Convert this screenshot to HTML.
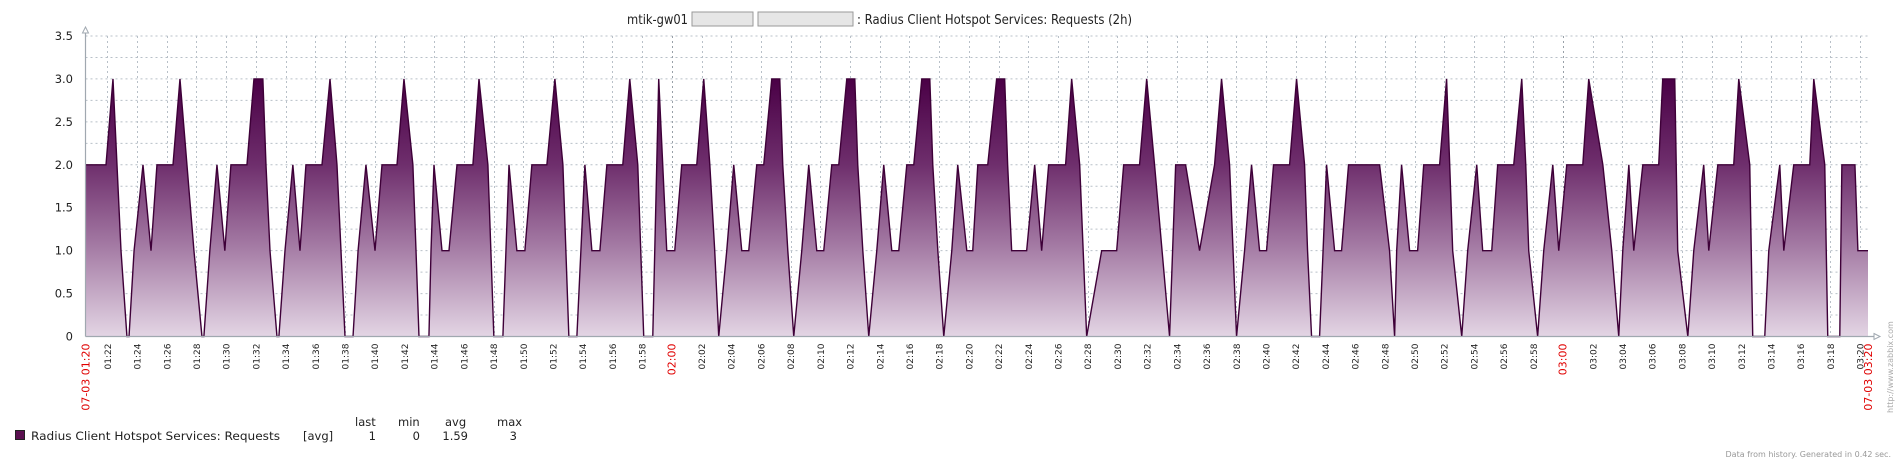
<!DOCTYPE html>
<html><head><meta charset="utf-8"><style>
html,body{margin:0;padding:0;background:#fff;}
svg{display:block;font-family:"DejaVu Sans","Liberation Sans",sans-serif;}
</style></head><body>
<svg id="chart" width="1898" height="462" viewBox="0 0 1898 462" xmlns="http://www.w3.org/2000/svg">
<defs>
<linearGradient id="fillGrad" gradientUnits="userSpaceOnUse" x1="0" y1="79" x2="0" y2="336.5">
<stop offset="0" stop-color="#4a0046"/>
<stop offset="0.33" stop-color="#6e2e6c"/>
<stop offset="0.66" stop-color="#a67da6"/>
<stop offset="1" stop-color="#e3d5e4"/>
</linearGradient>
</defs>
<g>
<text x="627" y="24" font-size="13.5" fill="#222" textLength="61" lengthAdjust="spacingAndGlyphs">mtik-gw01</text>
<rect x="692" y="12" width="61" height="14" fill="#e6e6e6" stroke="#999"/>
<rect x="758" y="12" width="95" height="14" fill="#e6e6e6" stroke="#999"/>
<text x="857" y="24" font-size="13.5" fill="#222" textLength="275" lengthAdjust="spacingAndGlyphs">: Radius Client Hotspot Services: Requests (2h)</text>
</g>
<g id="grid"></g>
<g id="series"></g>
<g id="axes"></g>
<g font-size="11.5" fill="#222">
<text x="355" y="426">last</text><text x="398" y="426">min</text><text x="445" y="426">avg</text><text x="497" y="426">max</text>
<rect x="15.5" y="430.5" width="9" height="9" fill="#5a1050" stroke="#222"/>
<text x="31" y="440" textLength="249" lengthAdjust="spacingAndGlyphs">Radius Client Hotspot Services: Requests</text>
<text x="303" y="440">[avg]</text>
<text x="376" y="440" text-anchor="end">1</text>
<text x="420" y="440" text-anchor="end">0</text>
<text x="468" y="440" text-anchor="end">1.59</text>
<text x="517" y="440" text-anchor="end">3</text>
</g>
<text x="1891" y="457" font-size="8" fill="#999" text-anchor="end">Data from history. Generated in 0.42 sec.</text>
<text transform="translate(1893,413) rotate(-90)" font-size="8" fill="#aaa">http://www.zabbix.com</text>
</svg>
<script>
// data: minutes since 01:20 and request values
const times = [0.53,1.91,2.38,2.65,2.92,3.32,3.46,3.80,4.40,4.94,5.34,6.42,6.89,7.36,7.83,8.37,8.50,8.90,9.38,9.91,10.32,11.40,11.87,12.47,12.68,12.95,13.42,13.55,13.96,14.49,14.97,15.37,16.45,16.99,17.46,17.73,18.00,18.54,18.88,19.41,20.02,20.49,21.50,21.97,22.57,22.78,22.98,23.65,23.79,23.99,24.53,25.00,25.54,26.61,27.02,27.62,28.02,28.63,29.04,29.57,30.11,30.58,31.59,32.13,32.67,33.07,33.61,34.15,34.62,35.16,35.63,36.70,37.17,37.71,38.11,38.72,39.12,39.66,40.20,40.67,41.68,42.15,42.56,42.89,43.16,43.70,44.17,44.71,45.18,45.72,46.19,46.73,47.27,47.47,47.81,48.21,48.75,49.22,49.76,50.23,50.77,51.24,51.78,52.32,52.52,52.86,53.26,53.80,54.27,54.81,55.28,55.82,56.29,56.83,57.37,57.57,57.91,58.31,58.85,59.25,59.86,60.26,60.60,61.27,61.87,62.41,62.61,62.88,63.89,64.43,64.90,65.37,66.51,66.92,67.46,67.93,68.94,69.95,70.42,71.49,71.97,72.50,73.51,73.92,74.59,75.53,76.54,77.01,77.55,78.02,78.56,79.03,79.57,80.04,80.51,81.59,82.06,82.60,82.80,83.07,83.61,84.08,84.62,85.09,85.56,87.65,88.32,88.66,88.80,89.13,89.67,90.21,90.62,91.69,92.16,92.37,92.57,93.18,93.58,94.19,94.59,95.20,95.60,96.68,97.22,97.49,97.69,98.29,98.70,99.31,99.71,100.25,101.33,101.73,102.68,103.28,103.75,104.02,104.43,104.76,105.37,106.44,106.71,107.52,107.72,108.40,108.80,109.47,109.81,110.42,111.49,111.83,112.57,112.77,113.58,113.85,114.59,114.86,115.53,116.61,116.88,117.62,117.82,118.63,118.77,119.65,119.85,120.53];
const values = [2,2,3,2,1,0,0,1,2,1,2,2,3,2,1,0,0,1,2,1,2,2,3,3,2,1,0,0,1,2,1,2,2,3,2,1,0,0,1,2,1,2,2,3,2,1,0,0,1,2,1,1,2,2,3,2,0,0,2,1,1,2,2,3,2,0,0,2,1,1,2,2,3,2,0,0,3,1,1,2,2,3,2,1,0,1,2,1,1,2,2,3,3,2,1,0,1,2,1,1,2,2,3,3,2,1,0,1,2,1,1,2,2,3,3,2,1,0,1,2,1,1,2,2,3,3,2,1,1,2,1,2,2,3,2,0,1,1,2,2,3,2,0,2,2,1,2,3,2,0,1,2,1,1,2,2,3,2,1,0,0,2,1,1,2,2,1,0,1,2,1,1,2,2,3,2,1,0,1,2,1,1,2,2,3,2,1,0,1,2,1,2,2,3,2,1,0,1,2,1,2,2,3,3,1,0,1,2,1,2,2,3,2,0,0,1,2,1,2,2,3,2,0,0,2,2,1,1];
const yTicks = [0,0.5,1.0,1.5,2.0,2.5,3.0,3.5];
const yTickLabels = ["0","0.5","1.0","1.5","2.0","2.5","3.0","3.5"];
const xTickMinutes = [];
for (let m = 2; m <= 120; m += 2) xTickMinutes.push(m);
const tStart = 0.53, tEnd = 120.53;

const NS = "http://www.w3.org/2000/svg";
const L = 85.5, R = 1868, Y0 = 336.5, Y35 = 36;
const xs = t => L + (t - tStart) * (R - L) / (tEnd - tStart);
const ys = v => Y0 - v * (Y0 - Y35) / 3.5;
function mk(tag, parent, attrs){ const e = document.createElementNS(NS, tag); for (const k in attrs) e.setAttribute(k, attrs[k]); parent.appendChild(e); return e; }

const grid = document.getElementById('grid');
for (let v = 0.25; v <= 3.5001; v += 0.25) {
  const l = mk('line', grid, {x1:L, x2:R, y1:ys(v), y2:ys(v), stroke:'#b8c0c8', 'stroke-dasharray':'2,3', 'stroke-width':1});
  
  
}
xTickMinutes.forEach(m => {
  const x = Math.round(xs(m)) + 0.5;
  const major = (m === 40 || m === 100);
  const l = mk('line', grid, {x1:x, x2:x, y1:ys(3.5), y2:Y0, stroke: major ? '#98a0a8' : '#b8c0c8', 'stroke-dasharray':'2,3', 'stroke-width':1});
  
  
});

const series = document.getElementById('series');
let d = 'M' + xs(times[0]) + ',' + Y0;
let ld = '';
times.forEach((t, i) => { d += ' L' + xs(t).toFixed(2) + ',' + ys(values[i]).toFixed(2); ld += (i ? ' L' : 'M') + xs(t).toFixed(2) + ',' + ys(values[i]).toFixed(2); });
d += ' L' + xs(times[times.length-1]) + ',' + Y0 + ' Z';
const area = mk('path', series, {d:d, fill:'url(#fillGrad)'});


const line = mk('path', series, {d:ld, fill:'none', stroke:'#3e0038', 'stroke-width':1.4, 'stroke-linejoin':'miter'});



const axes = document.getElementById('axes');
const ya = mk('line', axes, {x1:L, x2:L, y1:30, y2:Y0, stroke:'#a0a8b0', 'stroke-width':1.2});


const yarr = mk('path', axes, {d:`M${L-3},33 L${L},27 L${L+3},33 Z`, fill:'#fff', stroke:'#a0a8b0'});


const xa = mk('line', axes, {x1:L, x2:1876, y1:Y0, y2:Y0, stroke:'#a0a8b0', 'stroke-width':1.2});


const xarr = mk('path', axes, {d:`M1874,${Y0-3} L1880,${Y0} L1874,${Y0+3} Z`, fill:'#fff', stroke:'#a0a8b0'});



yTicks.forEach((v, i) => {
  const t = mk('text', axes, {x:73, y:ys(v) + 4, 'font-size':11.5, fill:'#222', 'text-anchor':'end'});
  t.textContent = yTickLabels[i];
  
  
});

function fmt(m){ const tot = 80 + m; const h = Math.floor(tot/60), mm = tot % 60; return String(h).padStart(2,'0') + ':' + String(mm).padStart(2,'0'); }
xTickMinutes.forEach(m => {
  const x = xs(m);
  const major = (m === 40 || m === 100);
  const t = mk('text', axes, {transform:`translate(${(x+3.5).toFixed(1)},${Y0+7}) rotate(-90)`, 'font-size': major ? 11 : 9, fill: major ? '#e00000' : '#222', 'text-anchor':'end'});
  t.textContent = fmt(m);
  
  
});
[[tStart, '07-03 01:20'], [tEnd, '07-03 03:20']].forEach(([tm, s]) => {
  const t = mk('text', axes, {transform:`translate(${(xs(tm)+4).toFixed(1)},${Y0+7}) rotate(-90)`, 'font-size':11, fill:'#e00000', 'text-anchor':'end'});
  t.textContent = s;
  
  
});
</script>
</body></html>
